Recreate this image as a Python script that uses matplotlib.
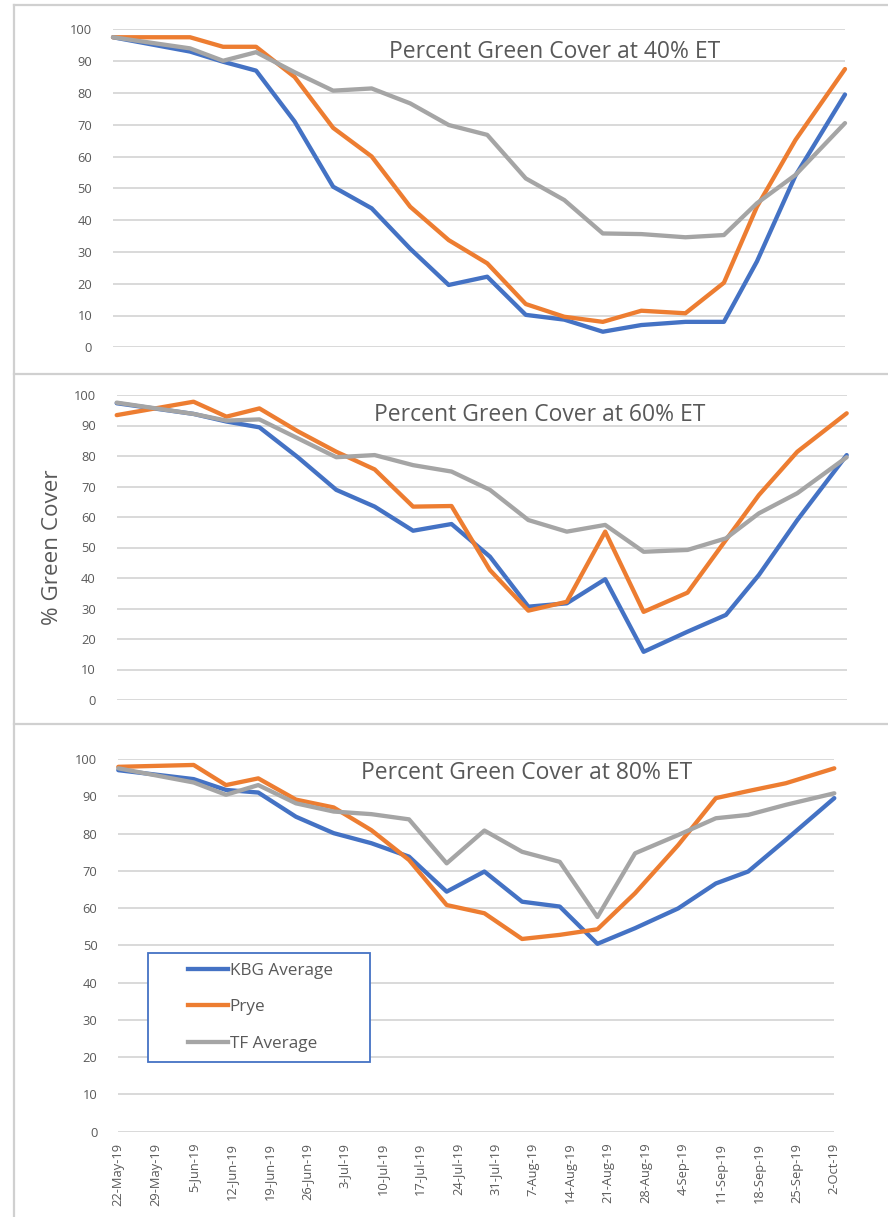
import numpy as np
import pandas as pd
import matplotlib
matplotlib.use("Agg")
import matplotlib.pyplot as plt
from matplotlib.lines import Line2D
from matplotlib.legend_handler import HandlerLine2D

plt.rcParams['font.family'] = ['Open Sans', 'DejaVu Sans']

# ---------------- data ----------------
sample_dates = ['2019-05-22', '2019-06-05', '2019-06-11', '2019-06-17', '2019-06-24',
                '2019-07-01', '2019-07-08', '2019-07-15', '2019-07-22', '2019-07-29',
                '2019-08-05', '2019-08-12', '2019-08-19', '2019-08-26', '2019-09-03',
                '2019-09-10', '2019-09-16', '2019-09-23', '2019-10-02']

tick_labels = ['22-May-19', '29-May-19', '5-Jun-19', '12-Jun-19', '19-Jun-19', '26-Jun-19',
               '3-Jul-19', '10-Jul-19', '17-Jul-19', '24-Jul-19', '31-Jul-19', '7-Aug-19',
               '14-Aug-19', '21-Aug-19', '28-Aug-19', '4-Sep-19', '11-Sep-19', '18-Sep-19',
               '25-Sep-19', '2-Oct-19']

series_names = ['KBG Average', 'Prye', 'TF Average']
panel_titles = ['Percent Green Cover at 40% ET', 'Percent Green Cover at 60% ET',
                'Percent Green Cover at 80% ET']

kbg40 = [97.5, 93, 89.8, 87, 71, 50.5, 43.7, 31, 19.6, 22.2, 10.2, 8.7, 4.9, 7, 8, 8, 27, 54, 79.5]
prye40 = [97.5, 97.5, 94.5, 94.5, 85, 69, 60, 44.2, 33.7, 26.4, 13.6, 9.6, 8, 11.5, 10.7, 20.3, 44.2, 65.2, 87.5]
tf40 = [97.5, 94, 90.1, 92.8, 86.5, 80.7, 81.4, 76.7, 69.9, 66.8, 53.1, 46.3, 35.8, 35.6, 34.6, 35.3, 45.3, 54.2, 70.5]

kbg60 = [97.3, 93.8, 91.3, 89.4, 79.6, 68.9, 63.4, 55.5, 57.7, 47, 30.6, 31.7, 39.6, 15.8, 22.4, 27.9, 41, 59, 80.3]
prye60 = [93.4, 97.8, 92.9, 95.6, 88.1, 81.4, 75.6, 63.4, 63.6, 42.6, 29.3, 32.2, 55.2, 28.9, 35.2, 52.5, 67.2, 81.4, 94.0]
tf60 = [97.5, 93.8, 91.6, 92, 85.8, 79.6, 80.3, 77, 74.9, 68.9, 59, 55.2, 57.4, 48.6, 49.2, 53, 61.2, 67.8, 79.6]

kbg80 = [97.0, 94.6, 91.7, 91, 84.5, 80.1, 77.4, 73.8, 64.4, 69.8, 61.7, 60.4, 50.4, 54.6, 59.9, 66.6, 69.8, 78.3, 89.5]
prye80 = [97.9, 98.4, 93, 94.8, 89.1, 87, 80.9, 72.9, 60.8, 58.6, 51.7, 52.8, 54.3, 64, 76.9, 89.5, 91.4, 93.5, 97.5]
tf80 = [97.5, 93.7, 90.4, 93, 88.1, 85.9, 85.2, 83.8, 72, 80.8, 75.1, 72.4, 57.6, 74.7, 79.6, 84.1, 85, 87.7, 90.8]

panels = [(kbg40, prye40, tf40), (kbg60, prye60, tf60), (kbg80, prye80, tf80)]
colors = ['#4472C4', '#ED7D31', '#A5A5A5']

# ---------------- layout ----------------
W, H = 888, 1217
fig = plt.figure(figsize=(W / 100, H / 100), dpi=100)

def rect(l, r, t, b):
    return [l / W, 1 - b / H, (r - l) / W, (b - t) / H]

axes_px = [(113, 845, 29.3, 347.3), (116.7, 846.7, 395, 700), (118.3, 834.3, 759, 1131.6)]
title_px = [(555, 52), (540, 415), (527, 773)]

start = pd.Timestamp('2019-05-22')
x = np.array([(pd.Timestamp(d) - start).days for d in sample_dates])
tick_pos = np.arange(len(tick_labels)) * 7

text_col = '#595959'
grid_col = '#D9D9D9'
border_col = '#D0D0D0'
LW = 3.1

axes = []
for i, (vals, (l, r, t, b)) in enumerate(zip(panels, axes_px)):
    ax = fig.add_axes(rect(l, r, t, b))
    for s, (v, c) in enumerate(zip(vals, colors)):
        ax.plot(x, v, color=c, lw=LW, solid_joinstyle='round', solid_capstyle='round',
                label=series_names[s], zorder=3 + s, clip_on=False)
    ax.set_xlim(0, 133)
    ax.set_ylim(0, 100)
    ax.set_yticks(np.arange(0, 101, 10))
    ax.grid(axis='y', color=grid_col, lw=1.4)
    ax.set_axisbelow(True)
    for sp in ax.spines.values():
        sp.set_visible(False)
    ax.tick_params(axis='y', length=0, pad=15, labelsize=9.3, labelcolor=text_col)
    ax.set_xticks(tick_pos)
    if i < 2:
        ax.tick_params(axis='x', length=0, labelbottom=False)
    else:
        ax.set_xticklabels(tick_labels, rotation=90, ha='center', va='top')
        ax.tick_params(axis='x', length=0, pad=8, labelsize=9.3, labelcolor=text_col)
    fig.text(title_px[i][0] / W, 1 - title_px[i][1] / H, panel_titles[i],
             ha='center', va='center', fontsize=16.5, color=text_col)
    axes.append(ax)

# y-axis label
fig.text(53 / W, 1 - 547 / H, '% Green Cover', rotation=90, ha='center', va='center',
         fontsize=16.2, color=text_col)

# legend
class LeftPadHandler(HandlerLine2D):
    def get_xdata(self, legend, xdescent, ydescent, width, height, fontsize):
        xd = np.array([-xdescent + 1.75 * fontsize, -xdescent + width])
        return xd, xd

handles = [Line2D([], [], color=c, lw=LW) for c in colors]
lx0, lx1, ly0, ly1 = 147.5, 369.5, 952.5, 1061
leg = axes[2].legend(handles, series_names, loc='upper left',
                     bbox_to_anchor=(lx0 / W, 1 - ly1 / H, (lx1 - lx0) / W, (ly1 - ly0) / H),
                     bbox_transform=fig.transFigure, mode='expand', borderaxespad=0,
                     fancybox=False, framealpha=1, edgecolor='#4472C4',
                     prop={'size': 12.3}, labelcolor=text_col, handlelength=4.1,
                     handletextpad=0.1, labelspacing=1.2, borderpad=0.6,
                     handler_map={Line2D: LeftPadHandler()})
leg.get_frame().set_linewidth(1.3)
leg.set_zorder(10)

# chart-area borders
def hline(y, x0=14, x1=W):
    fig.add_artist(Line2D([x0 / W, x1 / W], [1 - y / H, 1 - y / H], color=border_col, lw=1.6))

hline(5)
hline(373.5)
hline(723.5)
fig.add_artist(Line2D([14 / W, 14 / W], [1 - 5 / H, 0], color=border_col, lw=1.6))

fig.savefig('out.png', dpi=100)
